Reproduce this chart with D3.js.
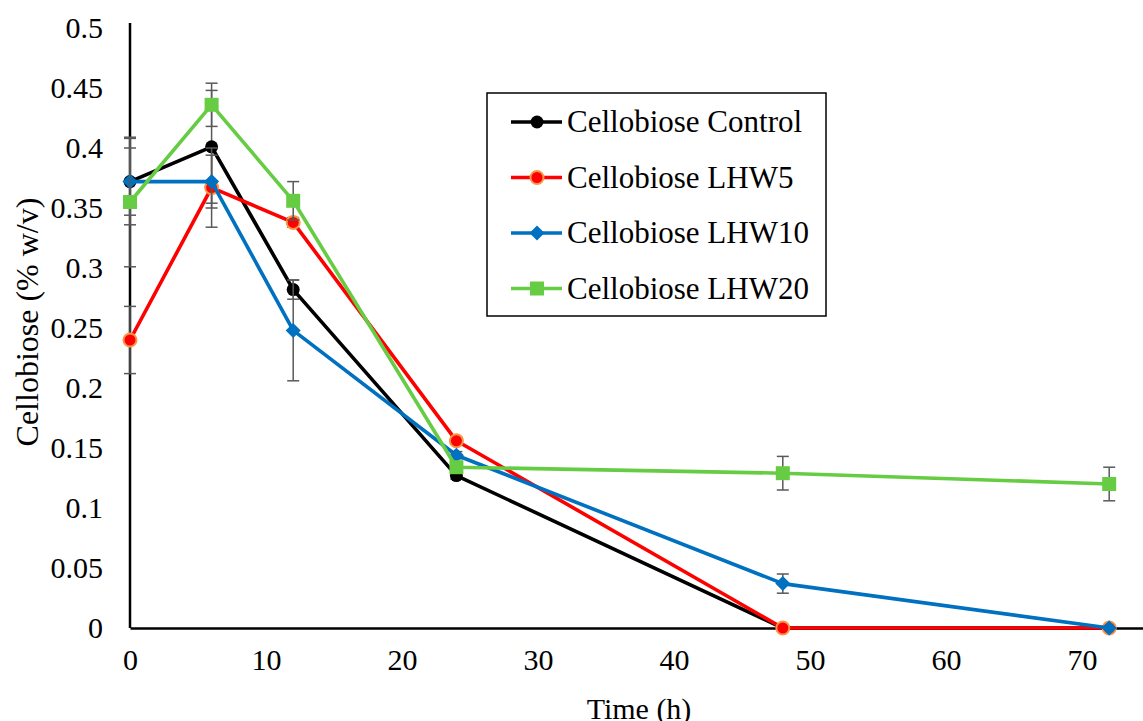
<!DOCTYPE html>
<html>
<head>
<meta charset="utf-8">
<script src="https://cdn.jsdelivr.net/npm/d3@7"></script>
<style>
  body { margin: 0; background: #fff; }
</style>
</head>
<body>
<div id="chart"></div>
<script>
const width = 1143;
const height = 721;
const FONT = '"Liberation Serif", "Times New Roman", Times, "DejaVu Serif", serif';

const times = [0, 6, 12, 24, 48, 72];
const control = [0.372, 0.401, 0.282, 0.127, 0, 0];
const controlErr = [0.036, 0.047, 0.008, 0.003, 0, 0];
const lhw5 = [0.24, 0.367, 0.338, 0.156, 0, 0];
const lhw5Err = [0.028, 0.033, 0.004, 0.003, 0, 0];
const lhw10 = [0.372, 0.372, 0.248, 0.144, 0.037, 0];
const lhw10Err = [0.028, 0.022, 0.042, 0.003, 0.008, 0];
const lhw20 = [0.355, 0.436, 0.356, 0.134, 0.129, 0.12];
const lhw20Err = [0.054, 0.018, 0.016, 0.003, 0.014, 0.014];
const xTicks = [0, 10, 20, 30, 40, 50, 60, 70];
const yTicks = [0, 0.05, 0.1, 0.15, 0.2, 0.25, 0.3, 0.35, 0.4, 0.45, 0.5];

const series = [
  { name: "Cellobiose Control", values: control, err: controlErr, color: "#000000", marker: "circle" },
  { name: "Cellobiose LHW5", values: lhw5, err: lhw5Err, color: "#ff0000", marker: "ring" },
  { name: "Cellobiose LHW10", values: lhw10, err: lhw10Err, color: "#0070c0", marker: "diamond" },
  { name: "Cellobiose LHW20", values: lhw20, err: lhw20Err, color: "#66cc44", marker: "square" },
];

const x = d3.scaleLinear().domain([0, 75]).range([130, 1150]);
const y = d3.scaleLinear().domain([0, 0.5]).range([628, 28]);

const svg = d3
  .select("#chart")
  .append("svg")
  .attr("width", width)
  .attr("height", height)
  .style("font-family", FONT);

// axes
const xAxis = svg
  .append("g")
  .attr("transform", `translate(0,${y(0)})`)
  .call(d3.axisBottom(x).tickValues(xTicks).tickSize(0).tickPadding(21));
xAxis.attr("font-family", null);
xAxis.select(".domain").attr("stroke", "#000").attr("stroke-width", 2.5);
xAxis.selectAll("text").style("font-size", "30px").style("font-family", FONT).attr("fill", "#000");

const yAxis = svg
  .append("g")
  .attr("transform", `translate(${x(0)},0)`)
  .call(d3.axisLeft(y).tickValues(yTicks).tickFormat((d) => String(d)).tickSize(0).tickPadding(27));
yAxis.attr("font-family", null);
yAxis.select(".domain").attr("stroke", "#000").attr("stroke-width", 2.5).attr("d", `M0,${y(0)}V23`);
yAxis.selectAll("text").style("font-size", "30px").style("font-family", FONT).attr("fill", "#000");

svg
  .append("text")
  .attr("x", 639)
  .attr("y", 719)
  .attr("text-anchor", "middle")
  .style("font-size", "30px")
  .text("Time (h)");

svg
  .append("text")
  .attr("transform", `translate(38,322) rotate(-90)`)
  .attr("text-anchor", "middle")
  .style("font-size", "32px")
  .text("Cellobiose (% w/v)");

const line = d3
  .line()
  .x((d) => x(d[0]))
  .y((d) => y(d[1]));

function drawMarker(g, type, color, cx, cy) {
  if (type === "circle") {
    g.append("circle").attr("cx", cx).attr("cy", cy).attr("r", 6.5).attr("fill", color);
  } else if (type === "ring") {
    g.append("circle").attr("cx", cx).attr("cy", cy).attr("r", 6.5)
      .attr("fill", color).attr("stroke", "#f79646").attr("stroke-width", 2);
  } else if (type === "diamond") {
    const s = 7.5;
    g.append("path")
      .attr("d", `M${cx},${cy - s}L${cx + s},${cy}L${cx},${cy + s}L${cx - s},${cy}Z`)
      .attr("fill", color);
  } else {
    g.append("rect").attr("x", cx - 7).attr("y", cy - 7).attr("width", 14).attr("height", 14).attr("fill", color);
  }
}

series.forEach((s) => {
  const g = svg.append("g");
  const pts = times.map((t, i) => [t, s.values[i]]);

  // error bars
  times.forEach((t, i) => {
    const e = s.err[i];
    if (!e) return;
    const cx = x(t);
    const y1 = y(s.values[i] + e);
    const y2 = y(s.values[i] - e);
    g.append("line").attr("x1", cx).attr("x2", cx).attr("y1", y1).attr("y2", y2)
      .attr("stroke", "#595959").attr("stroke-width", 1.5);
    [y1, y2].forEach((yy) => {
      g.append("line").attr("x1", cx - 6).attr("x2", cx + 6).attr("y1", yy).attr("y2", yy)
        .attr("stroke", "#595959").attr("stroke-width", 1.5);
    });
  });

  g.append("path")
    .datum(pts)
    .attr("d", line)
    .attr("fill", "none")
    .attr("stroke", s.color)
    .attr("stroke-width", 3.6)
    .attr("stroke-linejoin", "round");

  pts.forEach((p) => drawMarker(g, s.marker, s.color, x(p[0]), y(p[1])));
});

// legend
const legend = svg.append("g");
legend
  .append("rect")
  .attr("x", 487)
  .attr("y", 93)
  .attr("width", 339)
  .attr("height", 223)
  .attr("fill", "#fff")
  .attr("stroke", "#000")
  .attr("stroke-width", 1.5);

series.forEach((s, i) => {
  const ly = 122 + i * 55.5;
  legend.append("line").attr("x1", 511).attr("x2", 562).attr("y1", ly).attr("y2", ly)
    .attr("stroke", s.color).attr("stroke-width", 3.6);
  drawMarker(legend, s.marker, s.color, 537, ly);
  legend
    .append("text")
    .attr("x", 567)
    .attr("y", ly + 10)
    .style("font-size", "31px")
    .text(s.name);
});
</script>
</body>
</html>
